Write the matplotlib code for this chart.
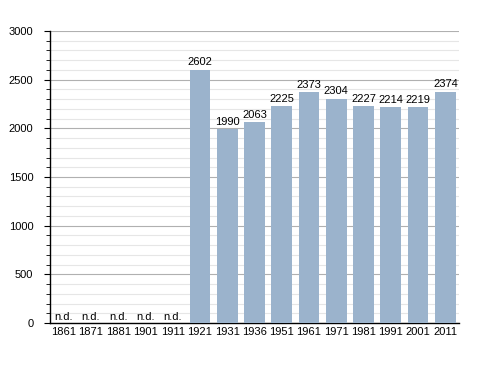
import matplotlib
matplotlib.use('Agg')
import matplotlib.pyplot as plt
import numpy as np
from matplotlib.ticker import MultipleLocator

rcParams = plt.rcParams
rcParams['font.family'] = 'Liberation Sans'
rcParams['font.size'] = 8

# Census years and population (n.d. = no data)
years = ['1861', '1871', '1881', '1901', '1911', '1921', '1931', '1936',
         '1951', '1961', '1971', '1981', '1991', '2001', '2011']
population = [None, None, None, None, None, 2602, 1990, 2063,
              2225, 2373, 2304, 2227, 2214, 2219, 2374]

bar_color = '#9bb3cc'

fig = plt.figure(figsize=(4.88, 3.73), dpi=100)
ax = fig.add_axes([0.1025, 0.134, 0.838, 0.783])

x = np.arange(len(years))
values = [v if v is not None else 0 for v in population]
ax.bar(x, values, width=0.76, color=bar_color, zorder=3)

# Value labels above bars, n.d. where there is no data
for xi, v in zip(x, population):
    if v is None:
        ax.text(xi, 15, 'n.d.', ha='center', va='bottom', zorder=4)
    else:
        ax.text(xi, v + 25, str(v), ha='center', va='bottom', zorder=4)

ax.set_xlim(-0.5, len(years) - 0.5)
ax.set_ylim(0, 3000)
ax.set_xticks(x)
ax.set_xticklabels(years)
ax.yaxis.set_major_locator(MultipleLocator(500))
ax.yaxis.set_minor_locator(MultipleLocator(100))

# Gridlines: light minor, darker major
ax.grid(axis='y', which='minor', color='#e6e6e6', linewidth=0.8, zorder=0)
ax.grid(axis='y', which='major', color='#b0b0b0', linewidth=0.8, zorder=1)

for side in ['top', 'right']:
    ax.spines[side].set_visible(False)
ax.spines['left'].set_linewidth(1.0)
ax.spines['bottom'].set_linewidth(1.0)

ax.tick_params(axis='x', length=0, pad=3)
ax.tick_params(axis='y', which='major', length=4, pad=8)
ax.tick_params(axis='y', which='minor', length=3)

fig.savefig('out.png', dpi=100)
